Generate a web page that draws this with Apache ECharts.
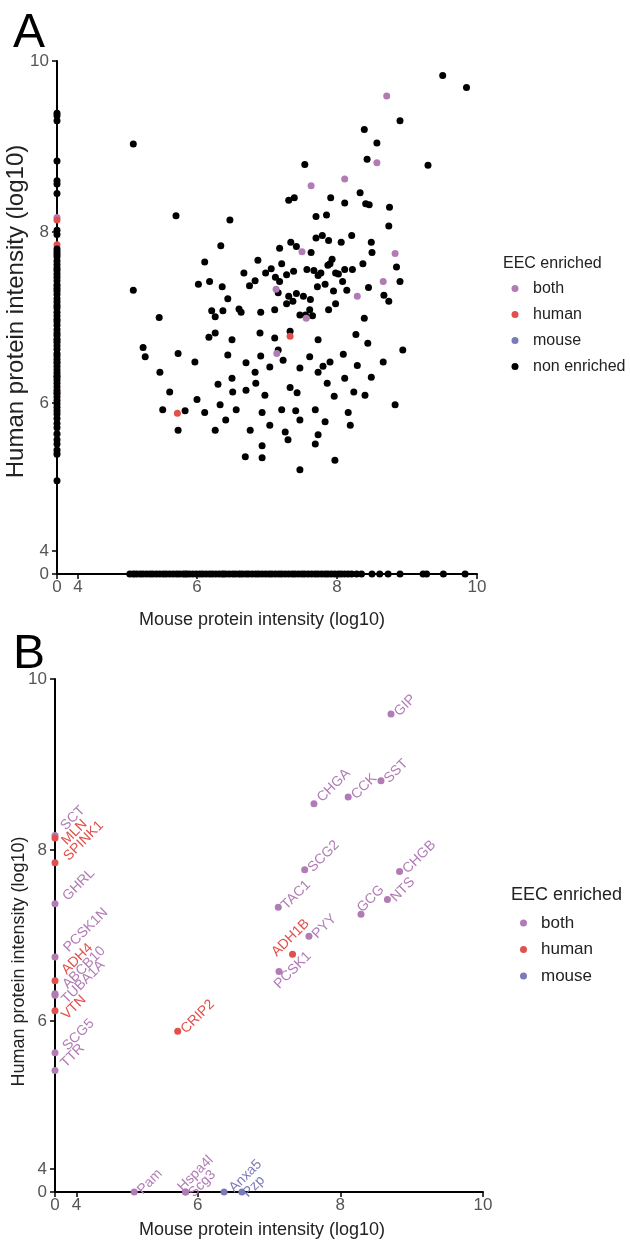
<!DOCTYPE html>
<html>
<head>
<meta charset="UTF-8">
<title>EEC enriched proteins</title>
<script src="https://cdn.jsdelivr.net/npm/echarts@6/dist/echarts.min.js"></script>
<style>
  html, body { margin: 0; padding: 0; background: #fff; }
  #chart { width: 630px; height: 1248px; }
</style>
</head>
<body>
<div id="chart"></div>
<script>
// values are log10 intensities; 0 = not detected (drawn on the axis)
var tickText = ['0', '4', '6', '8', '10'];
var xTicks = [4, 4.3, 6, 8, 10];
var yTicks = [4, 4.27, 6, 8, 10];

var bothGenes = ['GIP', 'CHGA', 'CCK', 'SST', 'SCG2', 'CHGB', 'TAC1', 'GCG', 'NTS', 'PYY', 'PCSK1',
  'SCT', 'GHRL', 'PCSK1N', 'ABCB10', 'TUBA1A', 'SCG5', 'TTR', 'Pam', 'Hspa4l', 'Scg3'];
var bothMouse = [8.71, 7.63, 8.11, 8.57, 7.50, 8.83, 7.13, 8.29, 8.66, 7.56, 7.14,
  0, 0, 0, 0, 0, 0, 0, 5.11, 5.83, 5.83];
var bothHuman = [9.59, 8.54, 8.62, 8.81, 7.77, 7.75, 7.33, 7.25, 7.42, 6.99, 6.58,
  8.17, 7.37, 6.75, 6.32, 6.30, 5.63, 5.42, 0, 0, 0];

var humanGenes = ['MLN', 'SPINK1', 'ADH4', 'VTN', 'ADH1B', 'CRIP2'];
var humanMouse = [0, 0, 0, 0, 7.33, 5.72];
var humanHuman = [8.14, 7.85, 6.47, 6.12, 6.78, 5.88];

var mouseGenes = ['Anxa5', 'Pzp'];
var mouseMouse = [6.37, 6.62];
var mouseHuman = [0, 0];

// non enriched proteins detected in both species [mouse, human]
var otherPoints = [
  [9.51, 9.83], [9.85, 9.69], [8.90, 9.30], [8.39, 9.20], [8.57, 9.04], [8.43, 8.85], [9.30, 8.78],
  [5.09, 9.03], [7.54, 8.79], [8.33, 8.46], [7.31, 8.37], [7.39, 8.40], [7.91, 8.40], [8.11, 8.34],
  [8.41, 8.33], [8.46, 8.32], [8.75, 8.29], [5.70, 8.19], [7.70, 8.18], [7.85, 8.20], [6.47, 8.14],
  [8.74, 8.07], [8.21, 7.96], [7.79, 7.96], [7.70, 7.93], [7.88, 7.90], [8.06, 7.88], [8.49, 7.88],
  [7.34, 7.88], [7.42, 7.83], [7.63, 7.76], [8.50, 7.76], [7.18, 7.81], [6.34, 7.84], [6.11, 7.65],
  [6.87, 7.67], [7.21, 7.63], [7.93, 7.68], [7.90, 7.63], [7.87, 7.61], [8.37, 7.63], [8.85, 7.59],
  [7.57, 7.56], [7.67, 7.55], [7.77, 7.52], [7.73, 7.49], [7.98, 7.52], [8.02, 7.51], [8.11, 7.56],
  [8.22, 7.56], [6.67, 7.52], [6.98, 7.52], [7.06, 7.57], [7.28, 7.50], [7.38, 7.54], [7.12, 7.47],
  [7.18, 7.42], [6.83, 7.43], [6.75, 7.37], [6.02, 7.39], [6.18, 7.42], [6.36, 7.36], [8.90, 7.42],
  [7.83, 7.39], [7.72, 7.36], [8.08, 7.42], [7.95, 7.31], [8.14, 7.32], [8.45, 7.35], [7.16, 7.29],
  [8.67, 7.26], [8.74, 7.19], [5.09, 7.32], [6.44, 7.22], [7.31, 7.25], [7.42, 7.28], [7.52, 7.25],
  [7.62, 7.21], [7.37, 7.19], [7.28, 7.16], [7.98, 7.16], [7.88, 7.09], [7.11, 7.09], [6.91, 7.06],
  [6.60, 7.10], [6.63, 7.06], [6.37, 7.08], [6.21, 7.08], [6.26, 7.01], [5.46, 7.00], [8.39, 6.99],
  [7.47, 7.03], [7.55, 7.03], [7.61, 7.09], [7.65, 7.02],
  [5.23, 6.65], [5.26, 6.54], [5.47, 6.36], [5.73, 6.58], [6.17, 6.77], [5.61, 6.13], [5.51, 5.92],
  [5.83, 5.91], [6.00, 6.04], [6.30, 6.22], [6.50, 6.29], [6.70, 6.47], [6.91, 6.55], [6.83, 6.36],
  [7.04, 6.42], [7.23, 6.50], [7.47, 6.41], [7.61, 6.54], [7.73, 6.36], [7.90, 6.48], [8.09, 6.57],
  [8.29, 6.44], [8.49, 6.30], [6.70, 6.15], [6.97, 6.09], [7.21, 5.92], [7.43, 6.12], [7.69, 5.92],
  [7.96, 6.08], [8.24, 6.13], [6.56, 5.92], [6.41, 5.80], [6.76, 5.68], [7.04, 5.74], [7.47, 5.80],
  [7.83, 5.78], [6.93, 5.50], [7.30, 5.57], [7.69, 5.52], [6.69, 5.37], [7.47, 5.22], [7.97, 5.33],
  [5.73, 5.68], [8.83, 5.98], [8.94, 6.62],
  [6.26, 6.82], [6.50, 6.74], [6.90, 6.82], [7.11, 6.76], [7.33, 6.84], [7.73, 6.74], [8.27, 6.80],
  [8.44, 6.70], [5.97, 6.48], [6.44, 6.56], [7.16, 6.62], [7.80, 6.43], [8.66, 6.48], [6.51, 6.13],
  [6.84, 6.23], [7.33, 6.18], [7.86, 6.23], [8.11, 6.29], [8.40, 6.09], [6.11, 5.89], [6.33, 5.98],
  [6.93, 5.89], [7.41, 5.91], [8.16, 5.89], [6.26, 5.68], [7.26, 5.66], [7.73, 5.63], [8.19, 5.74],
  [6.93, 5.36]
];
// non enriched, human only (mouse not detected)
var otherHumanOnly = [9.39, 9.36, 9.30, 8.83, 8.60, 8.56, 8.45, 8.02, 7.97, 7.80,
  7.77, 7.74, 7.71, 7.66, 7.62, 7.58, 7.55, 7.51, 7.47, 7.43, 7.38, 7.34, 7.31, 7.27, 7.22, 7.18,
  7.14, 7.11, 7.06, 7.02, 6.98, 6.95, 6.91, 6.86, 6.82, 6.79, 6.74, 6.71, 6.67, 6.63, 6.58, 6.55,
  6.51, 6.47, 6.43, 6.39, 6.35, 6.31, 6.27, 6.23, 6.19, 6.15, 6.11, 6.07, 6.03, 5.99, 5.95, 5.91,
  5.87, 5.82, 5.76, 5.71, 5.64, 5.57, 5.52, 5.45, 5.40, 5.09];
// non enriched, mouse only (human not detected)
var otherMouseOnly = [5.04, 5.09, 5.14, 5.19, 5.23, 5.28, 5.33, 5.37, 5.42, 5.47, 5.52, 5.56, 5.61,
  5.66, 5.71, 5.75, 5.80, 5.85, 5.89, 5.94, 5.99, 6.04, 6.08, 6.13, 6.18, 6.22, 6.27, 6.32, 6.37,
  6.41, 6.46, 6.51, 6.55, 6.60, 6.65, 6.70, 6.74, 6.79, 6.84, 6.88, 6.93, 6.98, 7.03, 7.07, 7.12,
  7.17, 7.21, 7.26, 7.31, 7.36, 7.40, 7.45, 7.50, 7.54, 7.59, 7.64, 7.69, 7.73, 7.78, 7.83, 7.87,
  7.92, 7.97, 8.02, 8.06, 8.11, 8.16, 8.21, 8.28, 8.35, 8.50, 8.61, 8.73, 8.90, 9.23, 9.28, 9.52, 9.83];

var colBoth = '#b17cb6', colHuman = '#e0514d', colMouse = '#7b7bb9', colOther = '#000';

// label nudges on screen (px, like ggrepel) for panel B
var labelShift = {
  SCT: [2.5, -7.5], MLN: [3.5, 4.7], SPINK1: [5.5, -4.4], GHRL: [4.5, -5.4], PCSK1N: [5.5, -7],
  ADH4: [3.5, -8.6], ABCB10: [4.5, -7], TUBA1A: [3.5, 6.2], VTN: [3.5, 6.6], SCG5: [4.5, -4.3],
  TTR: [2.5, -5.3], CHGA: [0, -4], GCG: [-7, -4], ADH1B: [-24, 0], PCSK1: [-8, 15],
  Hspa4l: [-11, -3], Scg3: [0, 3], Anxa5: [2, -2], Pzp: [-2, 3]
};

function pos(v) { return v === 0 ? 4 : v; }

// label offset is applied in the rotated (45 deg) text frame
function rotOff(s) {
  var c = Math.SQRT1_2;
  return [(s[0] - s[1]) * c, (s[0] + s[1]) * c];
}

function pts(genes, mx, hy, withLabel, keep) {
  var out = [];
  genes.forEach(function (g, i) {
    if (keep && !keep(mx[i], hy[i])) return;
    var d = {name: g, value: [pos(mx[i]), pos(hy[i])]};
    if (withLabel) d.label = {offset: rotOff(labelShift[g] || [0, 0])};
    out.push(d);
  });
  return out;
}
function onAxis(m, h) { return m === 0 || h === 0; }
function offAxis(m, h) { return m !== 0 && h !== 0; }

var otherData = otherPoints.map(function (p) { return [p[0], p[1]]; });
otherHumanOnly.forEach(function (h) { otherData.push([pos(0), h]); });
otherMouseOnly.forEach(function (m) { otherData.push([m, pos(0)]); });

var font = 'Liberation Sans, Arial, sans-serif';

function xAxis(gi, gap, shiftLeft) {
  return {
    gridIndex: gi, type: 'value', min: 4, max: 10,
    name: 'Mouse protein intensity (log10)', nameLocation: 'middle', nameGap: gap,
    nameMoveOverlap: false,
    nameTextStyle: {fontSize: 18, color: '#222', fontFamily: font, padding: [0, shiftLeft * 2, 0, 0]},
    axisLine: {onZero: false, lineStyle: {color: '#000', width: 2}},
    axisTick: {customValues: xTicks, length: 5, lineStyle: {color: '#000', width: 1.5}},
    axisLabel: {customValues: xTicks, color: '#555', fontSize: 17, margin: 5, fontFamily: font,
      formatter: function (v) { return tickText[xTicks.indexOf(v)]; }},
    splitLine: {show: false}
  };
}

function yAxis(gi, size, gap, pad) {
  return {
    gridIndex: gi, type: 'value', min: 4, max: 10,
    name: 'Human protein intensity (log10)', nameLocation: 'middle', nameGap: gap,
    nameMoveOverlap: false,
    nameTextStyle: {fontSize: size, color: '#222', fontFamily: font, padding: pad},
    axisLine: {onZero: false, lineStyle: {color: '#000', width: 2}},
    axisTick: {customValues: yTicks, length: 5, lineStyle: {color: '#000', width: 1.5}},
    axisLabel: {customValues: yTicks, color: '#555', fontSize: 17, margin: 8, fontFamily: font,
      formatter: function (v) { return tickText[yTicks.indexOf(v)]; }},
    splitLine: {show: false}
  };
}

function dotSeries(name, gi, data, color, withLabel) {
  var s = {
    name: name, type: 'scatter', xAxisIndex: gi, yAxisIndex: gi,
    symbolSize: 7, clip: false, data: data,
    itemStyle: {color: color, opacity: 1}
  };
  if (withLabel) {
    s.label = {show: true, position: 'right', rotate: 45, distance: 2, formatter: '{b}',
      color: color, fontSize: 14, fontFamily: font};
  }
  return s;
}

var chart = echarts.init(document.getElementById('chart'));
var option = {
  animation: false,
  textStyle: {fontFamily: font},
  title: [
    {text: 'A', left: 8, top: 5, textStyle: {fontSize: 48, fontWeight: 'normal', color: '#000'}},
    {text: 'B', left: 8, top: 626, textStyle: {fontSize: 48, fontWeight: 'normal', color: '#000'}},
    {text: 'EEC enriched', left: 498, top: 251, textStyle: {fontSize: 16, fontWeight: 'normal', color: '#222'}},
    {text: 'EEC enriched', left: 506, top: 881, textStyle: {fontSize: 18, fontWeight: 'normal', color: '#222'}}
  ],
  legend: [
    {data: ['both', 'human', 'mouse', 'non enriched'], orient: 'vertical', left: 511.5, top: 280.5,
      padding: 0, icon: 'circle', itemWidth: 7, itemHeight: 7, itemGap: 10, selectedMode: false,
      textStyle: {fontSize: 16, color: '#222', lineHeight: 16, padding: [0, 0, 0, 9.5]}},
    {data: ['both', 'human', 'mouse'], orient: 'vertical', left: 520, top: 914.5,
      padding: 0, icon: 'circle', itemWidth: 7, itemHeight: 7, itemGap: 9.5, selectedMode: false,
      textStyle: {fontSize: 17, color: '#222', lineHeight: 17, padding: [0, 0, 0, 9]}}
  ],
  grid: [
    {left: 57, top: 61, width: 420, height: 513, outerBoundsMode: 'none'},
    {left: 55, top: 679, width: 428, height: 513, outerBoundsMode: 'none'}
  ],
  xAxis: [xAxis(0, 37, 5), xAxis(1, 29, 7)],
  yAxis: [yAxis(0, 24, 29, [0, 0, 0, 12]), yAxis(1, 18, 27, [0, 52, 0, 0])],
  series: [
    // panel A: axis-bound enriched points sit under the non enriched column
    dotSeries('both', 0, pts(bothGenes, bothMouse, bothHuman, false, onAxis), colBoth, false),
    dotSeries('human', 0, pts(humanGenes, humanMouse, humanHuman, false, onAxis), colHuman, false),
    dotSeries('mouse', 0, pts(mouseGenes, mouseMouse, mouseHuman, false, onAxis), colMouse, false),
    dotSeries('non enriched', 0, otherData, colOther, false),
    dotSeries('both', 0, pts(bothGenes, bothMouse, bothHuman, false, offAxis), colBoth, false),
    dotSeries('human', 0, pts(humanGenes, humanMouse, humanHuman, false, offAxis), colHuman, false),
    // panel B
    dotSeries('both', 1, pts(bothGenes, bothMouse, bothHuman, true), colBoth, true),
    dotSeries('human', 1, pts(humanGenes, humanMouse, humanHuman, true), colHuman, true),
    dotSeries('mouse', 1, pts(mouseGenes, mouseMouse, mouseHuman, true), colMouse, true)
  ]
};
chart.setOption(option, true);
</script>
</body>
</html>
